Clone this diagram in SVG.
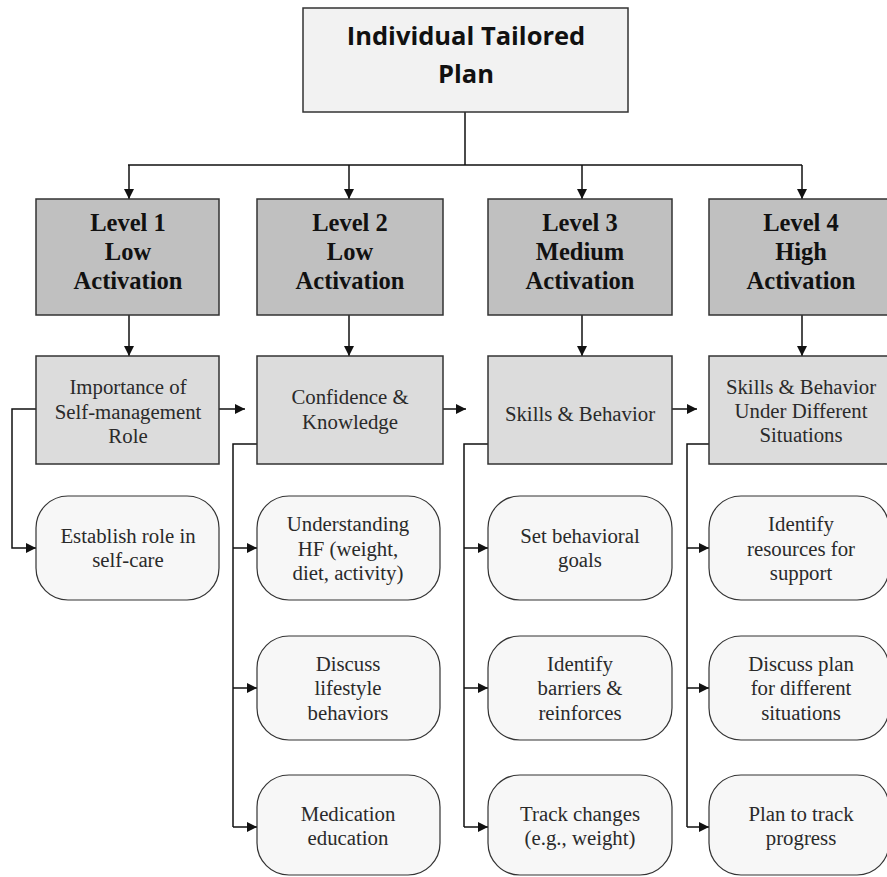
<svg xmlns="http://www.w3.org/2000/svg" width="887" height="877" viewBox="0 0 887 877">
<defs>
<marker id="ah" viewBox="0 0 10 10" refX="10" refY="5" markerWidth="10" markerHeight="10" markerUnits="userSpaceOnUse" orient="auto">
<path d="M0,0 L10,5 L0,10 z" fill="#111"/>
</marker>
<style>
.top{fill:#f2f2f2;stroke:#333;stroke-width:1.5}
.lvl{fill:#c0c0c0;stroke:#333;stroke-width:1.5}
.sec{fill:#dcdcdc;stroke:#333;stroke-width:1.5}
.rnd{fill:#f7f7f7;stroke:#333;stroke-width:1.2}
.tt{font-family:'Open Sans','Liberation Sans',sans-serif;font-weight:bold;font-size:25.5px;fill:#111;text-anchor:middle}
.lt{font-family:'Liberation Serif',serif;font-weight:bold;font-size:24.5px;fill:#111;text-anchor:middle}
.st{font-family:'Liberation Serif',serif;font-size:20.8px;fill:#2a2a2a;text-anchor:middle}
.cn{fill:none;stroke:#111;stroke-width:1.5}
</style>
</defs>
<g id="connectors">
<path class="cn" d="M465,112 V165 M128,165 H802"/>
<path class="cn" d="M129,165 V199" marker-end="url(#ah)"/>
<path class="cn" d="M349,165 V199" marker-end="url(#ah)"/>
<path class="cn" d="M582,165 V199" marker-end="url(#ah)"/>
<path class="cn" d="M802,165 V199" marker-end="url(#ah)"/>
<path class="cn" d="M129,315 V356" marker-end="url(#ah)"/>
<path class="cn" d="M349,315 V356" marker-end="url(#ah)"/>
<path class="cn" d="M582,315 V356" marker-end="url(#ah)"/>
<path class="cn" d="M802,315 V356" marker-end="url(#ah)"/>
<path class="cn" d="M219,409 H245" marker-end="url(#ah)"/>
<path class="cn" d="M443,409 H466" marker-end="url(#ah)"/>
<path class="cn" d="M672,409 H697" marker-end="url(#ah)"/>
<path class="cn" d="M36,409 H12 V548 H36" marker-end="url(#ah)"/>
<path class="cn" d="M257,444 H233 V827"/>
<path class="cn" d="M233,548 H257" marker-end="url(#ah)"/>
<path class="cn" d="M233,688 H257" marker-end="url(#ah)"/>
<path class="cn" d="M233,827 H257" marker-end="url(#ah)"/>
<path class="cn" d="M488,444 H464 V827"/>
<path class="cn" d="M464,548 H488" marker-end="url(#ah)"/>
<path class="cn" d="M464,688 H488" marker-end="url(#ah)"/>
<path class="cn" d="M464,827 H488" marker-end="url(#ah)"/>
<path class="cn" d="M709,444 H687 V827"/>
<path class="cn" d="M687,548 H709" marker-end="url(#ah)"/>
<path class="cn" d="M687,688 H709" marker-end="url(#ah)"/>
<path class="cn" d="M687,827 H709" marker-end="url(#ah)"/>
</g>
<g id="plan">
<rect class="top" x="303" y="8" width="325" height="104"/>
<text class="tt" x="466" y="45">Individual Tailored</text>
<text class="tt" x="466" y="83">Plan</text>
</g>
<g id="level1">
<rect class="lvl" x="36" y="199" width="183" height="116"/>
<text class="lt" x="128" y="231">Level 1</text>
<text class="lt" x="128" y="260">Low</text>
<text class="lt" x="128" y="289">Activation</text>
</g>
<g id="level2">
<rect class="lvl" x="257" y="199" width="186" height="116"/>
<text class="lt" x="350" y="231">Level 2</text>
<text class="lt" x="350" y="260">Low</text>
<text class="lt" x="350" y="289">Activation</text>
</g>
<g id="level3">
<rect class="lvl" x="488" y="199" width="184" height="116"/>
<text class="lt" x="580" y="231">Level 3</text>
<text class="lt" x="580" y="260">Medium</text>
<text class="lt" x="580" y="289">Activation</text>
</g>
<g id="level4">
<rect class="lvl" x="709" y="199" width="184" height="116"/>
<text class="lt" x="801" y="231">Level 4</text>
<text class="lt" x="801" y="260">High</text>
<text class="lt" x="801" y="289">Activation</text>
</g>
<g id="importance">
<rect class="sec" x="36" y="356" width="183" height="108"/>
<text class="st" x="128" y="394">Importance of</text>
<text class="st" x="128" y="419">Self-management</text>
<text class="st" x="128" y="443">Role</text>
</g>
<g id="confidence">
<rect class="sec" x="257" y="356" width="186" height="108"/>
<text class="st" x="350" y="404">Confidence &amp;</text>
<text class="st" x="350" y="429">Knowledge</text>
</g>
<g id="skills">
<rect class="sec" x="488" y="356" width="184" height="108"/>
<text class="st" x="580" y="421">Skills &amp; Behavior</text>
</g>
<g id="skills-situations">
<rect class="sec" x="709" y="356" width="184" height="108"/>
<text class="st" x="801" y="394">Skills &amp; Behavior</text>
<text class="st" x="801" y="418">Under Different</text>
<text class="st" x="801" y="442">Situations</text>
</g>
<g id="establish">
<rect class="rnd" x="36" y="496" width="183" height="104" rx="32" ry="32"/>
<text class="st" x="128" y="543">Establish role in</text>
<text class="st" x="128" y="567">self-care</text>
</g>
<g id="understanding">
<rect class="rnd" x="257" y="496" width="183" height="104" rx="32" ry="32"/>
<text class="st" x="348" y="531">Understanding</text>
<text class="st" x="348" y="556">HF (weight,</text>
<text class="st" x="348" y="580">diet, activity)</text>
</g>
<g id="lifestyle">
<rect class="rnd" x="257" y="636" width="183" height="104" rx="32" ry="32"/>
<text class="st" x="348" y="671">Discuss</text>
<text class="st" x="348" y="695">lifestyle</text>
<text class="st" x="348" y="720">behaviors</text>
</g>
<g id="medication">
<rect class="rnd" x="257" y="775" width="183" height="100" rx="32" ry="32"/>
<text class="st" x="348" y="821">Medication</text>
<text class="st" x="348" y="845">education</text>
</g>
<g id="goals">
<rect class="rnd" x="488" y="496" width="184" height="104" rx="32" ry="32"/>
<text class="st" x="580" y="543">Set behavioral</text>
<text class="st" x="580" y="567">goals</text>
</g>
<g id="barriers">
<rect class="rnd" x="488" y="636" width="184" height="104" rx="32" ry="32"/>
<text class="st" x="580" y="671">Identify</text>
<text class="st" x="580" y="695">barriers &amp;</text>
<text class="st" x="580" y="720">reinforces</text>
</g>
<g id="track">
<rect class="rnd" x="488" y="775" width="184" height="100" rx="32" ry="32"/>
<text class="st" x="580" y="821">Track changes</text>
<text class="st" x="580" y="845">(e.g., weight)</text>
</g>
<g id="resources">
<rect class="rnd" x="709" y="496" width="180" height="104" rx="32" ry="32"/>
<text class="st" x="801" y="531">Identify</text>
<text class="st" x="801" y="556">resources for</text>
<text class="st" x="801" y="580">support</text>
</g>
<g id="discuss-plan">
<rect class="rnd" x="709" y="636" width="180" height="104" rx="32" ry="32"/>
<text class="st" x="801" y="671">Discuss plan</text>
<text class="st" x="801" y="695">for different</text>
<text class="st" x="801" y="720">situations</text>
</g>
<g id="progress">
<rect class="rnd" x="709" y="775" width="180" height="100" rx="32" ry="32"/>
<text class="st" x="801" y="821">Plan to track</text>
<text class="st" x="801" y="845">progress</text>
</g>
</svg>
